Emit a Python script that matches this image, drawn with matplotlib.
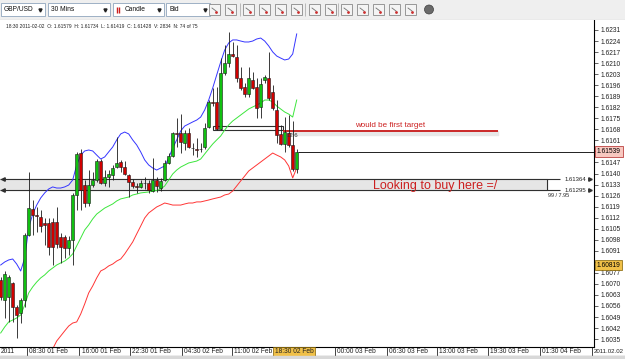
import matplotlib
matplotlib.use('Agg')
import matplotlib.pyplot as plt
import matplotlib.transforms as mtransforms
from matplotlib.patches import Rectangle, Circle
import numpy as np

plt.rcParams['font.family'] = ['Liberation Sans', 'DejaVu Sans']

# 30 min GBP/USD bars, 01-02 Feb 2011
opens = [1.60725, 1.60598, 1.60617, 1.60706, 1.60554, 1.60516, 1.60598, 1.61010, 1.61175, 1.61137,
         1.61124, 1.61086, 1.61086, 1.61093, 1.61093, 1.60998, 1.60998, 1.60928, 1.60979, 1.61264,
         1.61530, 1.61327, 1.61213, 1.61327, 1.61359, 1.61479, 1.61340, 1.61378, 1.61391, 1.61441,
         1.61473, 1.61441, 1.61391, 1.61346, 1.61321, 1.61315, 1.61340, 1.61340, 1.61289, 1.61359,
         1.61308, 1.61359, 1.61467, 1.61511, 1.61657, 1.61657, 1.61594, 1.61657, 1.61562, 1.61556,
         1.61556, 1.61568, 1.61695, 1.61854, 1.61854, 1.61682, 1.62037, 1.62101, 1.62158, 1.62139,
         1.62006, 1.61949, 1.61904, 1.61993, 1.61949, 1.61822, 1.61993, 1.62006, 1.61917, 1.61803,
         1.61651, 1.61587, 1.61655, 1.61579, 1.61428]
highs = [1.60744, 1.60782, 1.60757, 1.60712, 1.60566, 1.60611, 1.61023, 1.61410, 1.61232, 1.61188,
         1.61169, 1.61118, 1.61118, 1.61118, 1.61188, 1.61023, 1.61010, 1.61004, 1.61277, 1.61537,
         1.61556, 1.61359, 1.61422, 1.61410, 1.61492, 1.61492, 1.61422, 1.61422, 1.61454, 1.61632,
         1.61486, 1.61479, 1.61397, 1.61365, 1.61340, 1.61359, 1.61378, 1.61359, 1.61498, 1.61378,
         1.61372, 1.61486, 1.61530, 1.61663, 1.61752, 1.61777, 1.61676, 1.61689, 1.61594, 1.61625,
         1.61594, 1.61720, 1.61866, 1.61942, 1.61949, 1.62132, 1.62215, 1.62297, 1.62234, 1.62215,
         1.62075, 1.61974, 1.62075, 1.62044, 1.62006, 1.62006, 1.62025, 1.62171, 1.61961, 1.61866,
         1.61708, 1.61758, 1.61771, 1.61734, 1.61555]
lows = [1.60598, 1.60484, 1.60459, 1.60459, 1.60357, 1.60452, 1.60554, 1.61004, 1.61010, 1.61029,
        1.61029, 1.60947, 1.60883, 1.60820, 1.60928, 1.60833, 1.60864, 1.60883, 1.60820, 1.61169,
        1.61169, 1.61188, 1.61194, 1.61315, 1.61346, 1.61334, 1.61321, 1.61315, 1.61359, 1.61435,
        1.61410, 1.61391, 1.61251, 1.61308, 1.61277, 1.61308, 1.61302, 1.61277, 1.61283, 1.61283,
        1.61289, 1.61353, 1.61460, 1.61505, 1.61568, 1.61530, 1.61549, 1.61562, 1.61517, 1.61505,
        1.61537, 1.61556, 1.61689, 1.61828, 1.61676, 1.61676, 1.62025, 1.62075, 1.62139, 1.61980,
        1.61930, 1.61885, 1.61885, 1.61935, 1.61752, 1.61752, 1.61974, 1.61866, 1.61803, 1.61594,
        1.61581, 1.61537, 1.61565, 1.61419, 1.61405]
closes = [1.60617, 1.60763, 1.60744, 1.60554, 1.60503, 1.60598, 1.61010, 1.61181, 1.61137, 1.61131,
          1.61067, 1.61074, 1.60934, 1.60934, 1.60953, 1.60934, 1.60928, 1.60979, 1.61264, 1.61524,
          1.61296, 1.61213, 1.61327, 1.61359, 1.61479, 1.61340, 1.61378, 1.61397, 1.61435, 1.61467,
          1.61441, 1.61397, 1.61346, 1.61321, 1.61315, 1.61340, 1.61337, 1.61296, 1.61359, 1.61321,
          1.61353, 1.61467, 1.61511, 1.61657, 1.61651, 1.61600, 1.61657, 1.61568, 1.61559, 1.61552,
          1.61553, 1.61689, 1.61854, 1.61847, 1.61682, 1.62037, 1.62101, 1.62158, 1.62145, 1.62006,
          1.61942, 1.61904, 1.62006, 1.61945, 1.61815, 1.61968, 1.62012, 1.61879, 1.61815, 1.61644,
          1.61587, 1.61663, 1.61579, 1.61428, 1.61539]

# indicator lines (upper / middle / lower)
blue_line = [1.60820, 1.60839, 1.60852, 1.60858, 1.60826, 1.60782, 1.60864, 1.61055, 1.61143, 1.61200,
             1.61245, 1.61277, 1.61302, 1.61315, 1.61308, 1.61308, 1.61315, 1.61327, 1.61359, 1.61454,
             1.61517, 1.61543, 1.61549, 1.61543, 1.61517, 1.61492, 1.61505, 1.61537, 1.61568, 1.61613,
             1.61651, 1.61663, 1.61651, 1.61613, 1.61581, 1.61537, 1.61486, 1.61454, 1.61435, 1.61422,
             1.61435, 1.61448, 1.61498, 1.61562, 1.61613, 1.61670, 1.61701, 1.61714, 1.61727, 1.61739,
             1.61758, 1.61803, 1.61866, 1.61942, 1.62025, 1.62107, 1.62183, 1.62228, 1.62247, 1.62247,
             1.62240, 1.62234, 1.62234, 1.62240, 1.62253, 1.62259, 1.62240, 1.62209, 1.62171, 1.62145,
             1.62132, 1.62120, 1.62126, 1.62158, 1.62285]
green_line = [1.60389, 1.60427, 1.60459, 1.60471, 1.60484, 1.60503, 1.60566, 1.60643, 1.60681, 1.60712,
              1.60738, 1.60757, 1.60782, 1.60801, 1.60820, 1.60833, 1.60845, 1.60864, 1.60890, 1.60941,
              1.60991, 1.61042, 1.61074, 1.61112, 1.61143, 1.61162, 1.61181, 1.61194, 1.61207, 1.61226,
              1.61239, 1.61245, 1.61251, 1.61264, 1.61270, 1.61277, 1.61280, 1.61283, 1.61289, 1.61292,
              1.61302, 1.61321, 1.61359, 1.61397, 1.61422, 1.61441, 1.61454, 1.61467, 1.61473, 1.61479,
              1.61492, 1.61524, 1.61556, 1.61587, 1.61613, 1.61638, 1.61676, 1.61708, 1.61733, 1.61752,
              1.61771, 1.61790, 1.61809, 1.61822, 1.61834, 1.61847, 1.61866, 1.61866, 1.61854, 1.61828,
              1.61809, 1.61790, 1.61777, 1.61758, 1.61866]
red_line = [np.nan] * 13 + [
            1.60288, 1.60338, 1.60370, 1.60402, 1.60433, 1.60452, 1.60459, 1.60509, 1.60573,
            1.60643, 1.60687, 1.60738, 1.60782, 1.60795, 1.60814, 1.60826, 1.60845, 1.60858, 1.60890,
            1.60928, 1.60966, 1.61017, 1.61067, 1.61118, 1.61150, 1.61169, 1.61188, 1.61200, 1.61213,
            1.61207, 1.61200, 1.61200, 1.61200, 1.61207, 1.61213, 1.61213, 1.61220, 1.61220, 1.61226,
            1.61232, 1.61239, 1.61245, 1.61251, 1.61264, 1.61270, 1.61289, 1.61321, 1.61353, 1.61384,
            1.61416, 1.61435, 1.61454, 1.61473, 1.61492, 1.61511, 1.61530, 1.61517, 1.61505, 1.61486,
            1.61448, 1.61372, 1.61435]

price_ticks = [1.6035, 1.6042, 1.6049, 1.6056, 1.6063, 1.6070, 1.6077, 1.6084, 1.6091, 1.6098,
               1.6105, 1.6112, 1.6119, 1.6126, 1.6133, 1.6140, 1.6147, 1.6154, 1.6161, 1.6168,
               1.6175, 1.6182, 1.6189, 1.6196, 1.6203, 1.6210, 1.6217, 1.6224, 1.6231]
time_labels = ['08:30 01 Feb', '16:00 01 Feb', '22:30 01 Feb', '04:30 02 Feb', '11:00 02 Feb',
               '00:00 03 Feb', '06:30 03 Feb', '13:00 03 Feb', '19:30 03 Feb', '01:30 04 Feb']
time_pos = [6.6, 19.6, 32.3, 45.3, 57.8, 83.6, 96.6, 109.1, 121.8, 134.8]

zone_top, zone_bottom = 1.61364, 1.61295
target = 1.61670
last_price = 1.61539
cursor_price = 1.60819
header = '18:30 2011-02-02  O: 1.61579  H: 1.61734  L: 1.61419  C: 1.61428  V: 2834  N: 74 of 75'

W, H = 625, 359
fig = plt.figure(figsize=(W / 100, H / 100), dpi=100)
fig.patch.set_facecolor('white')
fig.patches.append(Rectangle((0, 0), 1, 3 / H, transform=fig.transFigure, color='#d8d8d8'))

ax = fig.add_axes([0, 12 / H, 594 / W, 327 / H])
ax.set_xlim(-0.175, 148.325)
ax.set_ylim(1.60300, 1.623734)
for s in ['top', 'left']:
    ax.spines[s].set_visible(False)
ax.spines['right'].set_linewidth(0.8)
ax.spines['bottom'].set_linewidth(0.8)
ax.set_xticks([])
ax.yaxis.tick_right()
ax.set_yticks(price_ticks)
# labels under the two price boxes are hidden
hidden = [1.6154, 1.6084]
ax.set_yticklabels(['' if any(abs(p - h) < 1e-6 for h in hidden) else f'{p:.4f}' for p in price_ticks])
ax.tick_params(axis='y', length=3, width=0.5, labelsize=4.8, pad=1.5, colors='#222222')

x = np.arange(len(opens))
o = np.array(opens); c = np.array(closes)
body_h = np.maximum(np.abs(c - o), 0.00002)
body_b = np.minimum(o, c)
cols = ['#10c010' if cc >= oo else '#d00000' for oo, cc in zip(o, c)]

# zone to buy
ax.fill_between([-0.175, 136.6], zone_bottom, zone_top, color='#e6e6e6', zorder=1)
ax.hlines([zone_top, zone_bottom], -0.175, 139.8, color='#303030', lw=0.8, zorder=2)
ax.vlines(136.6, zone_bottom, zone_top, color='#303030', lw=0.8, zorder=2)
ax.plot([0.6, 0.6], [zone_top, zone_bottom], ls='none', marker='<', ms=2.5, color='#303030', zorder=2)
blend = mtransforms.blended_transform_factory(ax.transAxes, ax.transData)
for p in [zone_top, zone_bottom]:
    ax.text(141.0, p, f'{p:.5f}', fontsize=4.3, va='center', ha='left', color='#222222')
    ax.plot([147.3], [p], ls='none', marker='>', ms=2.5, color='#303030', clip_on=False)
ax.text(136.9, zone_bottom - 0.00037, '99 / 7.95', fontsize=4.0, va='center', ha='left', color='#222222')
ax.text(108.6, 1.61321, 'Looking to buy here =/', fontsize=9.0, color='#cc2020', ha='center', va='center', zorder=3)

# target
ax.fill_between([70.6, 124.3], 1.61644, target, color='#e8e8e8', zorder=1)
ax.add_patch(Rectangle((53.1, 1.61674), 17.5, 0.00027, fill=False, edgecolor='#303030', lw=0.8, zorder=2))
ax.hlines(target, 70.6, 124.3, color='#c81818', lw=1.3, zorder=2)
ax.text(71.4, 1.61640, '12.6', fontsize=4.3, color='#333333', va='center', zorder=6)
ax.text(97.3, 1.61703, 'would be first target', fontsize=5.8, color='#cc2020', ha='center', va='center')

# last price line
ax.hlines(last_price, 74.4, 148.325, color='#202020', lw=0.7, zorder=2)

# indicator lines
ax.plot(x, blue_line, color='#3535ff', lw=0.7, zorder=3)
ax.plot(x, green_line, color='#3ce63c', lw=0.7, zorder=3)
ax.plot(x, red_line, color='#ff3535', lw=0.7, zorder=3)

# candles
ax.vlines(x, lows, highs, color='#1a1a1a', lw=0.6, zorder=4)
ax.bar(x, body_h, bottom=body_b, width=0.72, color=cols, edgecolor='#1a1a1a', linewidth=0.4, zorder=5)

ax.text(6 / 594, 1 - 7 / 327, header, transform=ax.transAxes, fontsize=3.5, va='center', ha='left', color='#222222')

# price boxes on the axis
for p, fc, ec in [(last_price, '#f8c8c0', '#b02020'), (cursor_price, '#f0c048', '#806000')]:
    ax.text(1 + 3 / 594, p, f'{p:.5f}', transform=blend, fontsize=4.8, va='center', ha='left', clip_on=False,
            bbox=dict(boxstyle='square,pad=0.25', facecolor=fc, edgecolor=ec, lw=0.5), zorder=10)

# time strip
ax_t = fig.add_axes([0, 3 / H, 1, 9 / H])
ax_t.set_xlim(-0.175, 156.075)
ax_t.set_ylim(0, 1)
ax_t.axis('off')
ax_t.axhline(0.02, color='#222222', lw=0.8)
ax_t.vlines(time_pos + [147.9], 0, 1, color='#222222', lw=0.6)
for pos, lab in zip(time_pos, time_labels):
    ax_t.text(pos + 0.6, 0.5, lab, fontsize=4.8, va='center', ha='left', color='#222222')
ax_t.text(0.1, 0.5, '2011', fontsize=4.8, va='center', ha='left', color='#222222')
ax_t.text(148.3, 0.5, '2011.02.02', fontsize=4.4, va='center', ha='left', color='#222222')
ax_t.text(73.3, 0.5, '18:30 02 Feb', fontsize=4.8, va='center', ha='center', color='#222222',
          bbox=dict(boxstyle='square,pad=0.2', facecolor='#f0c048', edgecolor='#806000', lw=0.5))

# toolbar
ax_b = fig.add_axes([0, 339 / H, 1, 20 / H])
ax_b.set_xlim(0, W)
ax_b.set_ylim(20, 0)
ax_b.axis('off')
ax_b.add_patch(Rectangle((0, 0), W, 19.5, facecolor='#efefef', edgecolor='none'))
ax_b.axhline(19.6, color='#a0a0a0', lw=0.8)
for x0, x1, lab in [(1, 45, 'GBP/USD'), (48, 110, '30 Mins'), (113, 164, 'Candle'), (166, 210, 'Bid')]:
    ax_b.add_patch(Rectangle((x0, 3), x1 - x0, 13, facecolor='white', edgecolor='#8fa5bd', lw=0.6))
    ax_b.text(x0 + (12 if lab == 'Candle' else 3), 9.5, lab, fontsize=4.8, va='center', ha='left', color='#111111')
    ax_b.plot([x1 - 5], [9.5], marker='v', ms=2.2, color='#222222')
ax_b.plot([116.5, 118.5], [9.5, 9.5], ls='none', marker='|', ms=4, color='#cc2020')
icons = [214, 230, 248, 264, 280, 296, 314, 330, 346, 362, 378, 394, 410]
for ix in icons:
    ax_b.add_patch(Rectangle((ix - 5.5, 4), 11, 11, facecolor='#f4f4f4', edgecolor='#8a8a8a', lw=0.6))
    ax_b.plot([ix - 2, ix + 2], [8, 11], color='#707070', lw=0.6)
    ax_b.plot([ix + 2], [12], marker='.', ms=2, color='#cc3030')
for sx in [239.5, 305, 337.5]:
    ax_b.vlines(sx, 3, 16, color='#b0b0b0', lw=0.6)
ax_b.add_patch(Circle((429, 9.5), 4.5, facecolor='#6a6a6a', edgecolor='#404040', lw=0.5))

fig.savefig('out.png', dpi=100, facecolor=fig.get_facecolor())
